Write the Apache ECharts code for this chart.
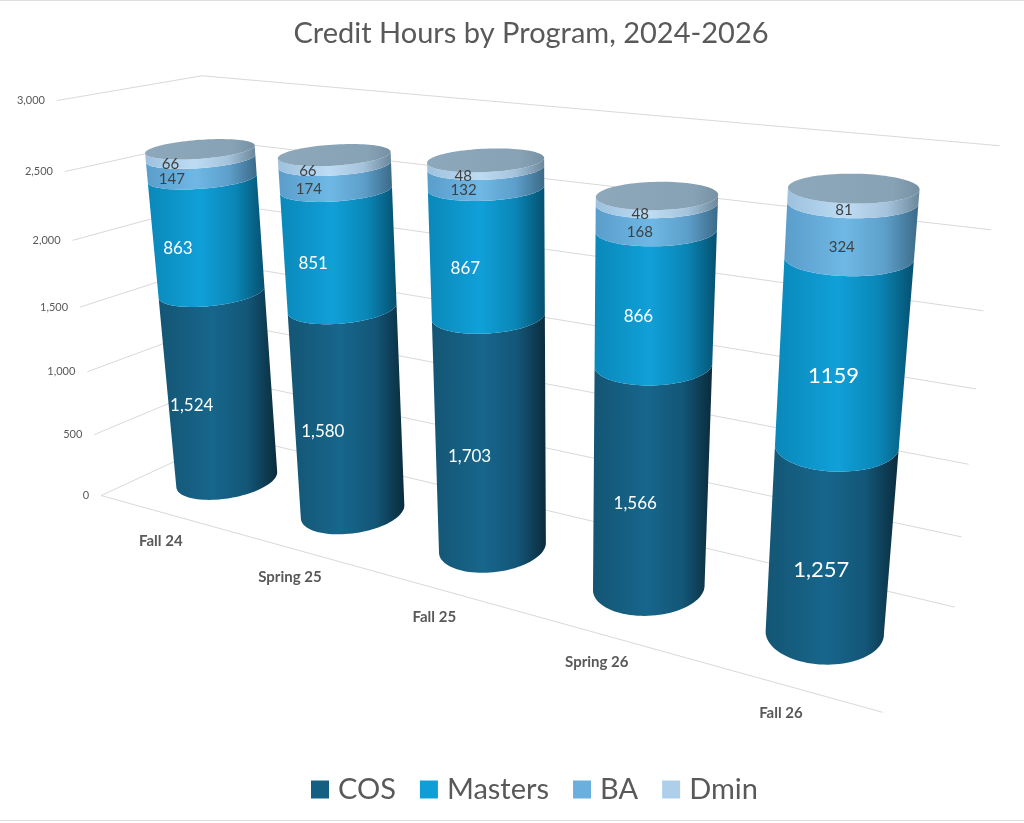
<!DOCTYPE html>
<html>
<head>
<meta charset="utf-8">
<title>Credit Hours by Program, 2024-2026</title>
<script src="https://cdn.jsdelivr.net/npm/echarts@6/dist/echarts.min.js"></script>
<style>
  html, body { margin: 0; padding: 0; background: #fff; }
  #chart { width: 1024px; height: 823px; }
</style>
</head>
<body>
<div id="chart"></div>
<script>
var terms = ['Fall 24', 'Spring 25', 'Fall 25', 'Spring 26', 'Fall 26'];
var programs = ['COS', 'Masters', 'BA', 'Dmin'];
var cos = [1524, 1580, 1703, 1566, 1257];
var masters = [863, 851, 867, 866, 1159];
var ba = [147, 174, 132, 168, 324];
var dmin = [66, 66, 48, 48, 81];
var valueTicks = [0, 500, 1000, 1500, 2000, 2500, 3000];
var valueMax = 3000;

var seriesValues = [cos, masters, ba, dmin];
var legendColors = ['#156082', '#0f9ed5', '#6aafdd', '#aecfea'];
// horizontal shading across each cylinder body (left -> right)
var bodyShades = [
  ['#145574', '#17668b', '#135678', '#0a2b3c'],
  ['#0a88ba', '#10a0d8', '#0a86b6', '#05506f'],
  ['#5a9dcb', '#6fb8e5', '#5d9fcb', '#3c6a88'],
  ['#9dc1de', '#bddcf3', '#a5c4dc', '#6c879b']
];
var FONT = 'Lato, "Open Sans", sans-serif';

// camera fit: where the 3D frame (x: categories 0..5, y: 0..1 of the value range,
// z: 0 front .. 1 back) lands on the page
var frameAnchors = [
  [0, 0, 0, 102, 495], [0, 1 / 6, 0, 95, 433], [0, 2 / 6, 0, 87, 372], [0, 3 / 6, 0, 80, 307],
  [0, 4 / 6, 0, 72, 241], [0, 5 / 6, 0, 64, 172], [0, 1, 0, 57, 101],
  [0, 0, 1, 230, 438], [0, 1 / 6, 1, 226, 378], [0, 1, 1, 203, 75],
  [5, 0, 1, 953, 606], [5, 1 / 6, 1, 962, 538], [5, 2 / 6, 1, 970, 465], [5, 3 / 6, 1, 977, 388],
  [5, 4 / 6, 1, 983, 310], [5, 5 / 6, 1, 990, 228], [5, 1, 1, 1000, 148],
  [5, 0, 0, 883, 713]
];
var BAR_R = 0.29;    // radius along categories
var BAR_RZ = 0.29;   // radius along depth
var BAR_Z = 0.5;     // bars stand mid-depth
var RING_STEPS = 96;
var LABEL_ANGLE = -75 * Math.PI / 180;

// least squares DLT (3x4 projection, last term fixed to 1)
function fitCamera(pts) {
  var n = 11, A = [], b = [];
  pts.forEach(function (p) {
    var X = p[0], Y = p[1], Z = p[2], u = p[3] / 1000, v = p[4] / 1000;
    A.push([X, Y, Z, 1, 0, 0, 0, 0, -u * X, -u * Y, -u * Z]); b.push(u);
    A.push([0, 0, 0, 0, X, Y, Z, 1, -v * X, -v * Y, -v * Z]); b.push(v);
  });
  var M = [], r = [];
  for (var i = 0; i < n; i++) {
    M.push([]); r.push(0);
    for (var j = 0; j < n; j++) {
      var s = 0;
      for (var k = 0; k < A.length; k++) s += A[k][i] * A[k][j];
      M[i].push(s);
    }
    for (var k2 = 0; k2 < A.length; k2++) r[i] += A[k2][i] * b[k2];
  }
  for (var c = 0; c < n; c++) {
    var piv = c;
    for (var q = c + 1; q < n; q++) if (Math.abs(M[q][c]) > Math.abs(M[piv][c])) piv = q;
    var tm = M[c]; M[c] = M[piv]; M[piv] = tm;
    var tr = r[c]; r[c] = r[piv]; r[piv] = tr;
    for (var q2 = c + 1; q2 < n; q2++) {
      var f = M[q2][c] / M[c][c];
      for (var j2 = c; j2 < n; j2++) M[q2][j2] -= f * M[c][j2];
      r[q2] -= f * r[c];
    }
  }
  var m = new Array(n);
  for (var i2 = n - 1; i2 >= 0; i2--) {
    var acc = r[i2];
    for (var j3 = i2 + 1; j3 < n; j3++) acc -= M[i2][j3] * m[j3];
    m[i2] = acc / M[i2][i2];
  }
  return m;
}
var cam = fitCamera(frameAnchors);

function project(X, Y, Z) {
  var w = cam[8] * X + cam[9] * Y + cam[10] * Z + 1;
  return [1000 * (cam[0] * X + cam[1] * Y + cam[2] * Z + cam[3]) / w,
          1000 * (cam[4] * X + cam[5] * Y + cam[6] * Z + cam[7]) / w];
}

// data -> frame coordinates, through the (hidden) cartesian axes
function toFrame(params, api, cat, val) {
  var cs = params.coordSys;
  var p = api.coord([cat, val]);
  return [(p[0] - cs.x) / cs.width * terms.length, (cs.y + cs.height - p[1]) / cs.height];
}

function ring(X, Y) {
  var pts = [];
  for (var k = 0; k < RING_STEPS; k++) {
    var t = 2 * Math.PI * k / RING_STEPS;
    pts.push(project(X + BAR_R * Math.cos(t), Y, BAR_Z + BAR_RZ * Math.sin(t)));
  }
  return pts;
}

// arc from leftmost to rightmost point passing through the front of the ring
function frontArc(pts) {
  var n = pts.length, iL = 0, iR = 0;
  pts.forEach(function (p, k) {
    if (p[0] < pts[iL][0]) iL = k;
    if (p[0] > pts[iR][0]) iR = k;
  });
  var kF = Math.round(n * 3 / 4);
  var step = ((kF - iL + n) % n) <= ((iR - iL + n) % n) ? 1 : -1;
  var arc = [];
  for (var k = iL; ; k = (k + step + n) % n) {
    arc.push(pts[k]);
    if (k === iR) break;
  }
  return arc;
}

function shade(stops) {
  return new echarts.graphic.LinearGradient(0, 0, 1, 0, [
    { offset: 0, color: stops[0] },
    { offset: 0.45, color: stops[1] },
    { offset: 0.75, color: stops[2] },
    { offset: 1, color: stops[3] }
  ]);
}

// stacked segments [category, start, end]
var segments = seriesValues.map(function (vals, s) {
  return vals.map(function (v, i) {
    var start = 0;
    for (var b = 0; b < s; b++) start += seriesValues[b][i];
    return [i, start, start + v];
  });
});
var labelData = [];
segments.forEach(function (seg, s) {
  seg.forEach(function (d) { labelData.push([d[0], d[1], d[2], s]); });
});

var chart = echarts.init(document.getElementById('chart'));

var series = [];

// walls: side + back gridlines, value labels, floor front edge
series.push({
  type: 'custom',
  name: 'walls',
  silent: true,
  data: valueTicks.map(function (v) { return [0, v]; }),
  renderItem: function (params, api) {
    var v = api.value(1);
    var Y = toFrame(params, api, 0, v)[1];
    var nX = terms.length;
    var a = project(0, Y, 0), b = project(0, Y, 1), c = project(nX, Y, 1);
    var children = [{
      type: 'polyline',
      shape: { points: [a, b, c] },
      style: { stroke: '#d9d9d9', lineWidth: 1, fill: null }
    }, {
      type: 'text',
      style: {
        text: v.toLocaleString('en-US'), x: a[0] - 12, y: a[1],
        align: 'right', verticalAlign: 'middle',
        fill: '#595959', fontSize: 11, fontFamily: FONT
      }
    }];
    if (v === 0) {
      children.push({
        type: 'line',
        shape: { x1: a[0], y1: a[1], x2: project(nX, 0, 0)[0], y2: project(nX, 0, 0)[1] },
        style: { stroke: '#d9d9d9', lineWidth: 1 }
      });
    }
    return { type: 'group', children: children };
  }
});

// category labels along the front edge of the floor
series.push({
  type: 'custom',
  name: 'terms',
  silent: true,
  data: terms.map(function (t, i) { return [i, 0]; }),
  renderItem: function (params, api) {
    var f = toFrame(params, api, api.value(0), 0);
    var p = project(f[0], 0, 0);
    return {
      type: 'text',
      style: {
        text: terms[params.dataIndex], x: p[0], y: p[1] + 29,
        align: 'center', verticalAlign: 'middle',
        fill: '#595959', fontSize: 15, fontWeight: 'bold', fontFamily: FONT
      }
    };
  }
});

// cylinders
programs.forEach(function (name, s) {
  series.push({
    type: 'custom',
    name: name,
    silent: true,
    itemStyle: { color: legendColors[s] },
    data: segments[s],
    renderItem: function (params, api) {
      var lo = toFrame(params, api, api.value(0), api.value(1));
      var hi = toFrame(params, api, api.value(0), api.value(2));
      var bottom = ring(lo[0], lo[1]);
      var top = ring(hi[0], hi[1]);
      var body = frontArc(bottom).concat(frontArc(top).reverse());
      var children = [{
        type: 'polygon',
        shape: { points: body },
        style: { fill: shade(bodyShades[s]) }
      }];
      if (s === programs.length - 1) {
        children.push({
          type: 'polygon',
          shape: { points: top },
          style: {
            fill: new echarts.graphic.LinearGradient(0, 0, 1, 0, [
              { offset: 0, color: '#8ea8bb' },
              { offset: 0.8, color: '#87a1b5' },
              { offset: 1, color: '#7690a4' }
            ])
          }
        });
      }
      return { type: 'group', children: children };
    }
  });
});

// value labels on the front of each segment
series.push({
  type: 'custom',
  name: 'values',
  silent: true,
  data: labelData,
  renderItem: function (params, api) {
    var i = api.value(0), s = api.value(3);
    var lo = toFrame(params, api, i, api.value(1));
    var hi = toFrame(params, api, i, api.value(2));
    var p = project(lo[0] + BAR_R * Math.cos(LABEL_ANGLE), (lo[1] + hi[1]) / 2,
                    BAR_Z + BAR_RZ * Math.sin(LABEL_ANGLE));
    var v = seriesValues[s][i];
    var big = s < 2;
    var size = big ? (i === terms.length - 1 ? 22 : 17) : 15;
    return {
      type: 'text',
      style: {
        text: s === 0 ? v.toLocaleString('en-US') : String(v),
        x: p[0], y: p[1], align: 'center', verticalAlign: 'middle',
        fill: big ? '#ffffff' : '#404040', fontSize: size, fontFamily: FONT
      }
    };
  }
});

chart.setOption({
  animation: false,
  backgroundColor: '#ffffff',
  title: {
    text: 'Credit Hours by Program, 2024-2026',
    left: 526, top: 14, textAlign: 'center',
    textStyle: { fontSize: 29, fontWeight: 'normal', color: '#595959', fontFamily: FONT }
  },
  legend: {
    data: programs,
    left: 306, top: 770,
    icon: 'rect', itemWidth: 18, itemHeight: 18, itemGap: 24,
    textStyle: { fontSize: 29, color: '#595959', fontFamily: FONT, padding: [0, 0, 0, 4] }
  },
  grid: { left: 0, top: 0, width: 500, height: 300, show: false },
  xAxis: { type: 'category', data: terms, show: false },
  yAxis: { type: 'value', min: 0, max: valueMax, interval: 500, show: false },
  graphic: [
    { type: 'line', shape: { x1: 0, y1: 0.5, x2: 1024, y2: 0.5 }, style: { stroke: '#dedede' } },
    { type: 'line', shape: { x1: 0, y1: 820.5, x2: 1024, y2: 820.5 }, style: { stroke: '#dedede' } }
  ],
  series: series
});
</script>
</body>
</html>
